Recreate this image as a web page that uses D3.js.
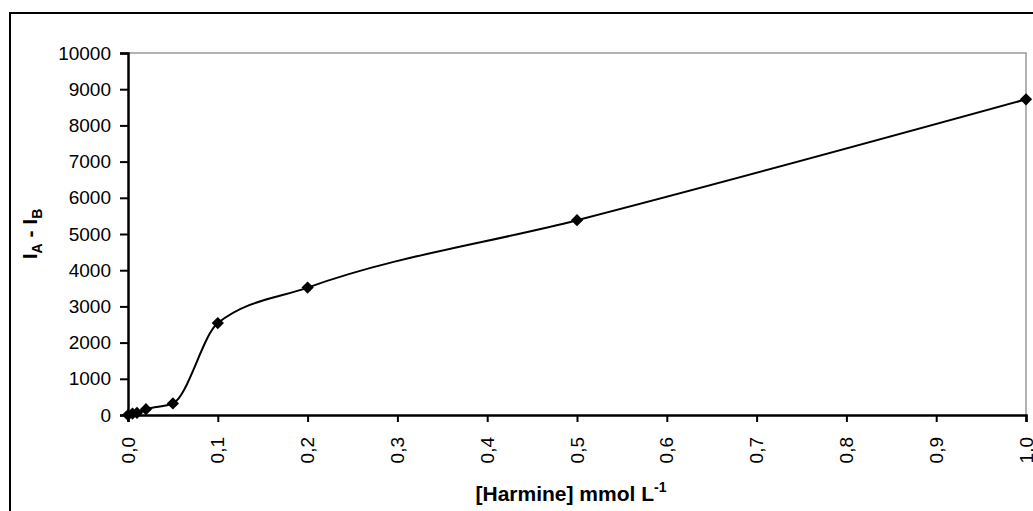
<!DOCTYPE html>
<html>
<head>
<meta charset="utf-8">
<script src="https://cdn.jsdelivr.net/npm/d3@7"></script>
<style>
  body { margin: 0; background: #fff; }
  svg text { font-family: "Liberation Sans", Arial, sans-serif; }
</style>
</head>
<body>
<svg id="chart" width="1033" height="511"></svg>
<script>
// harmine concentration (mmol/L) vs intensity difference
var conc = [0, 0.005, 0.01, 0.02, 0.05, 0.1, 0.2, 0.5, 1.0];
var diff = [0, 40, 60, 160, 320, 2540, 3520, 5380, 8720];
var yTicks = [0, 1000, 2000, 3000, 4000, 5000, 6000, 7000, 8000, 9000, 10000];
var xTicks = [0, 0.1, 0.2, 0.3, 0.4, 0.5, 0.6, 0.7, 0.8, 0.9, 1.0];

var svg = d3.select("#chart");
// plot area (don't call it "top", that's window.top)
var pl = 128, pr = 1026, pt = 53, pb = 415;

// outer frame, cut by the window on the right / bottom
svg.append("rect")
    .attr("x", 10).attr("y", 13)
    .attr("width", 1040).attr("height", 520)
    .attr("fill", "none").attr("stroke", "#000").attr("stroke-width", 2);

var x = d3.scaleLinear().domain([0, 1]).range([pl, pr]);
var y = d3.scaleLinear().domain([0, 10000]).range([pb, pt]);

// grey plot-area border top and right
svg.append("path")
    .attr("d", "M" + pl + "," + pt + "H" + pr + "V" + pb)
    .attr("fill", "none").attr("stroke", "#999").attr("stroke-width", 1.5);

var yAxis = svg.append("g")
    .attr("transform", "translate(" + pl + ",0)")
    .call(d3.axisLeft(y).tickValues(yTicks).tickSize(8).tickPadding(9).tickFormat(d3.format("d")));
yAxis.select(".domain").attr("stroke-width", 2.5);
yAxis.selectAll(".tick line").attr("stroke-width", 2);
yAxis.selectAll("text").style("font-size", "19px").attr("fill", "#000");

var xAxis = svg.append("g")
    .attr("transform", "translate(0," + pb + ")")
    .call(d3.axisBottom(x).tickValues(xTicks).tickSize(7).tickFormat(function(d) {
        return d.toFixed(1).replace(".", ",");
    }));
xAxis.select(".domain").attr("stroke-width", 2.5);
xAxis.selectAll(".tick line").attr("stroke-width", 2);
xAxis.selectAll("text")
    .style("font-size", "19px").attr("fill", "#000")
    .attr("text-anchor", "end")
    .attr("transform", "rotate(-90)")
    .attr("x", -22).attr("y", 0).attr("dy", "0.32em");

// smoothed line
var line = d3.line()
    .x(function(d, i) { return x(conc[i]); })
    .y(function(d) { return y(d); })
    .curve(d3.curveMonotoneX);

svg.append("path")
    .datum(diff)
    .attr("d", line)
    .attr("fill", "none").attr("stroke", "#000").attr("stroke-width", 2);

// diamond markers
svg.selectAll(".pt")
    .data(diff)
    .enter().append("path")
    .attr("class", "pt")
    .attr("d", d3.symbol().type(d3.symbolSquare).size(75))
    .attr("transform", function(d, i) {
        return "translate(" + x(conc[i]) + "," + y(d) + ") rotate(45)";
    })
    .attr("fill", "#000");

// axis titles
var yl = svg.append("text")
    .attr("transform", "translate(37," + (pt + pb) / 2 + ") rotate(-90)")
    .attr("text-anchor", "middle")
    .style("font-size", "21px").style("font-weight", "bold");
yl.append("tspan").text("I");
yl.append("tspan").text("A").attr("dy", 5).style("font-size", "14px");
yl.append("tspan").text(" - I").attr("dy", -5);
yl.append("tspan").text("B").attr("dy", 5).style("font-size", "14px");

var xl = svg.append("text")
    .attr("x", 571).attr("y", 501)
    .attr("text-anchor", "middle")
    .style("font-size", "21px").style("font-weight", "bold");
xl.append("tspan").text("[Harmine] mmol L");
xl.append("tspan").text("-1").attr("dy", -9).style("font-size", "14px");
</script>
</body>
</html>
